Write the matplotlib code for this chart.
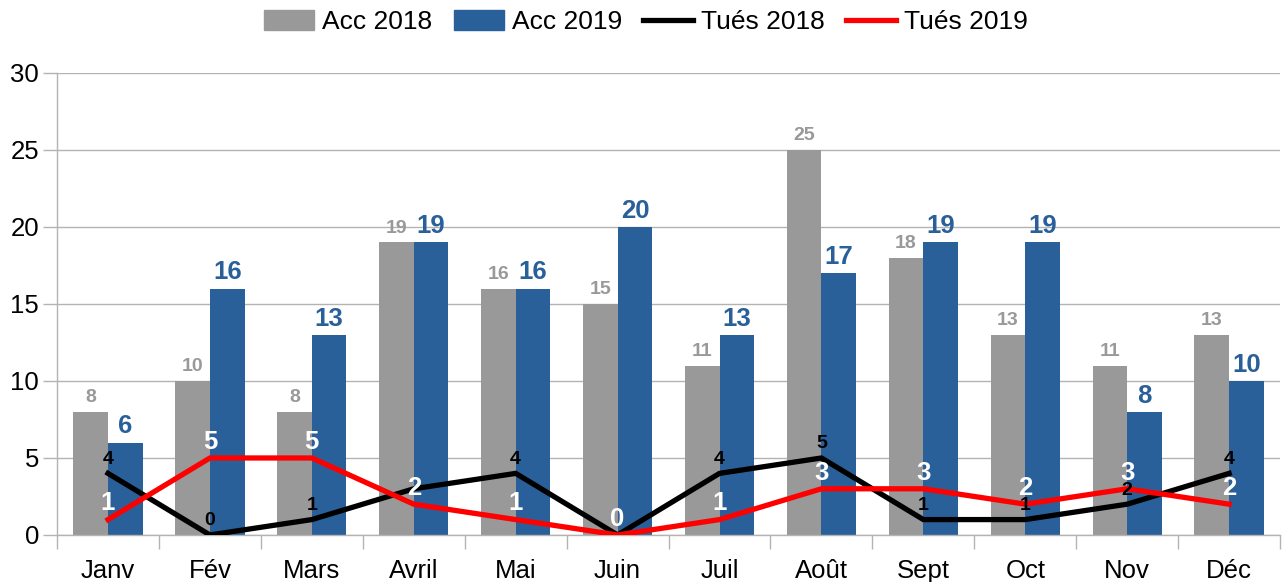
import numpy as np
import matplotlib.pyplot as plt
from matplotlib.patches import Patch
from matplotlib.lines import Line2D

# police proche d'Arial
plt.rcParams['font.family'] = ['Liberation Sans', 'DejaVu Sans']

mois = ['Janv', 'Fév', 'Mars', 'Avril', 'Mai', 'Juin', 'Juil', 'Août', 'Sept', 'Oct', 'Nov', 'Déc']
acc_2018 = [8, 10, 8, 19, 16, 15, 11, 25, 18, 13, 11, 13]
acc_2019 = [6, 16, 13, 19, 16, 20, 13, 17, 19, 19, 8, 10]
tues_2018 = [4, 0, 1, 3, 4, 0, 4, 5, 1, 1, 2, 4]
tues_2019 = [1, 5, 5, 2, 1, 0, 1, 3, 3, 2, 3, 2]

gris = '#999999'
bleu = '#2a6099'
rouge = '#ff0000'

x = np.arange(len(mois))
w = 0.34

fig = plt.figure(figsize=(12.82, 5.82), dpi=100)
ax = fig.add_axes([0.0445, 0.0808, 0.954, 0.7938])

ax.bar(x - w / 2, acc_2018, w, color=gris, zorder=2)
ax.bar(x + w / 2, acc_2019, w, color=bleu, zorder=2)
ax.plot(x, tues_2018, color='black', lw=3.8, zorder=3, solid_joinstyle='miter')
ax.plot(x, tues_2019, color=rouge, lw=3.8, zorder=4, solid_joinstyle='miter')

# étiquettes des barres
for i in range(len(mois)):
    ax.annotate(str(acc_2018[i]), (x[i] - w / 2, acc_2018[i]), xytext=(0, 4),
                textcoords='offset points', ha='center', va='bottom',
                color=gris, fontsize=14, fontweight='bold', zorder=5)
    ax.annotate(str(acc_2019[i]), (x[i] + w / 2, acc_2019[i]), xytext=(0, 3),
                textcoords='offset points', ha='center', va='bottom',
                color=bleu, fontsize=18.5, fontweight='bold', zorder=5)

# étiquettes des courbes (avril et juin masquées dans l'original)
for i in range(len(mois)):
    if i not in (3, 5):
        ax.annotate(str(tues_2018[i]), (x[i], tues_2018[i]), xytext=(0, 4),
                    textcoords='offset points', ha='center', va='bottom',
                    color='black', fontsize=14, fontweight='bold', zorder=6)
    ax.annotate(str(tues_2019[i]), (x[i], tues_2019[i]), xytext=(0, 3),
                textcoords='offset points', ha='center', va='bottom',
                color='white', fontsize=18.5, fontweight='bold', zorder=6)

ax.set_xlim(-0.5, len(mois) - 0.5)
ax.set_ylim(0, 30)
ax.set_yticks(range(0, 31, 5))
ax.set_xticks(x)
ax.set_xticklabels(mois)
ax.set_xticks(np.arange(-0.5, len(mois), 1), minor=True)
ax.tick_params(axis='x', which='major', length=0, pad=17, labelsize=18.5)
ax.tick_params(axis='x', which='minor', length=10, color='#b3b3b3', width=1)
ax.tick_params(axis='y', length=10, color='#b3b3b3', width=1, labelsize=18.5, pad=3)
ax.grid(axis='y', color='#b3b3b3', lw=1, zorder=0)
ax.set_axisbelow(True)
for s in ['top', 'right']:
    ax.spines[s].set_visible(False)
for s in ['left', 'bottom']:
    ax.spines[s].set_color('#b3b3b3')
    ax.spines[s].set_linewidth(1)

handles = [Patch(color=gris), Patch(color=bleu),
           Line2D([], [], color='black', lw=3.8), Line2D([], [], color=rouge, lw=3.8)]
fig.legend(handles, ['Acc 2018', 'Acc 2019', 'Tués 2018', 'Tués 2019'],
           loc='center', bbox_to_anchor=(0.504, 0.962), ncol=4, frameon=False,
           fontsize=19, handlelength=1.9, handleheight=0.8,
           handletextpad=0.3, columnspacing=0.8)

fig.savefig('out.png', dpi=100)
